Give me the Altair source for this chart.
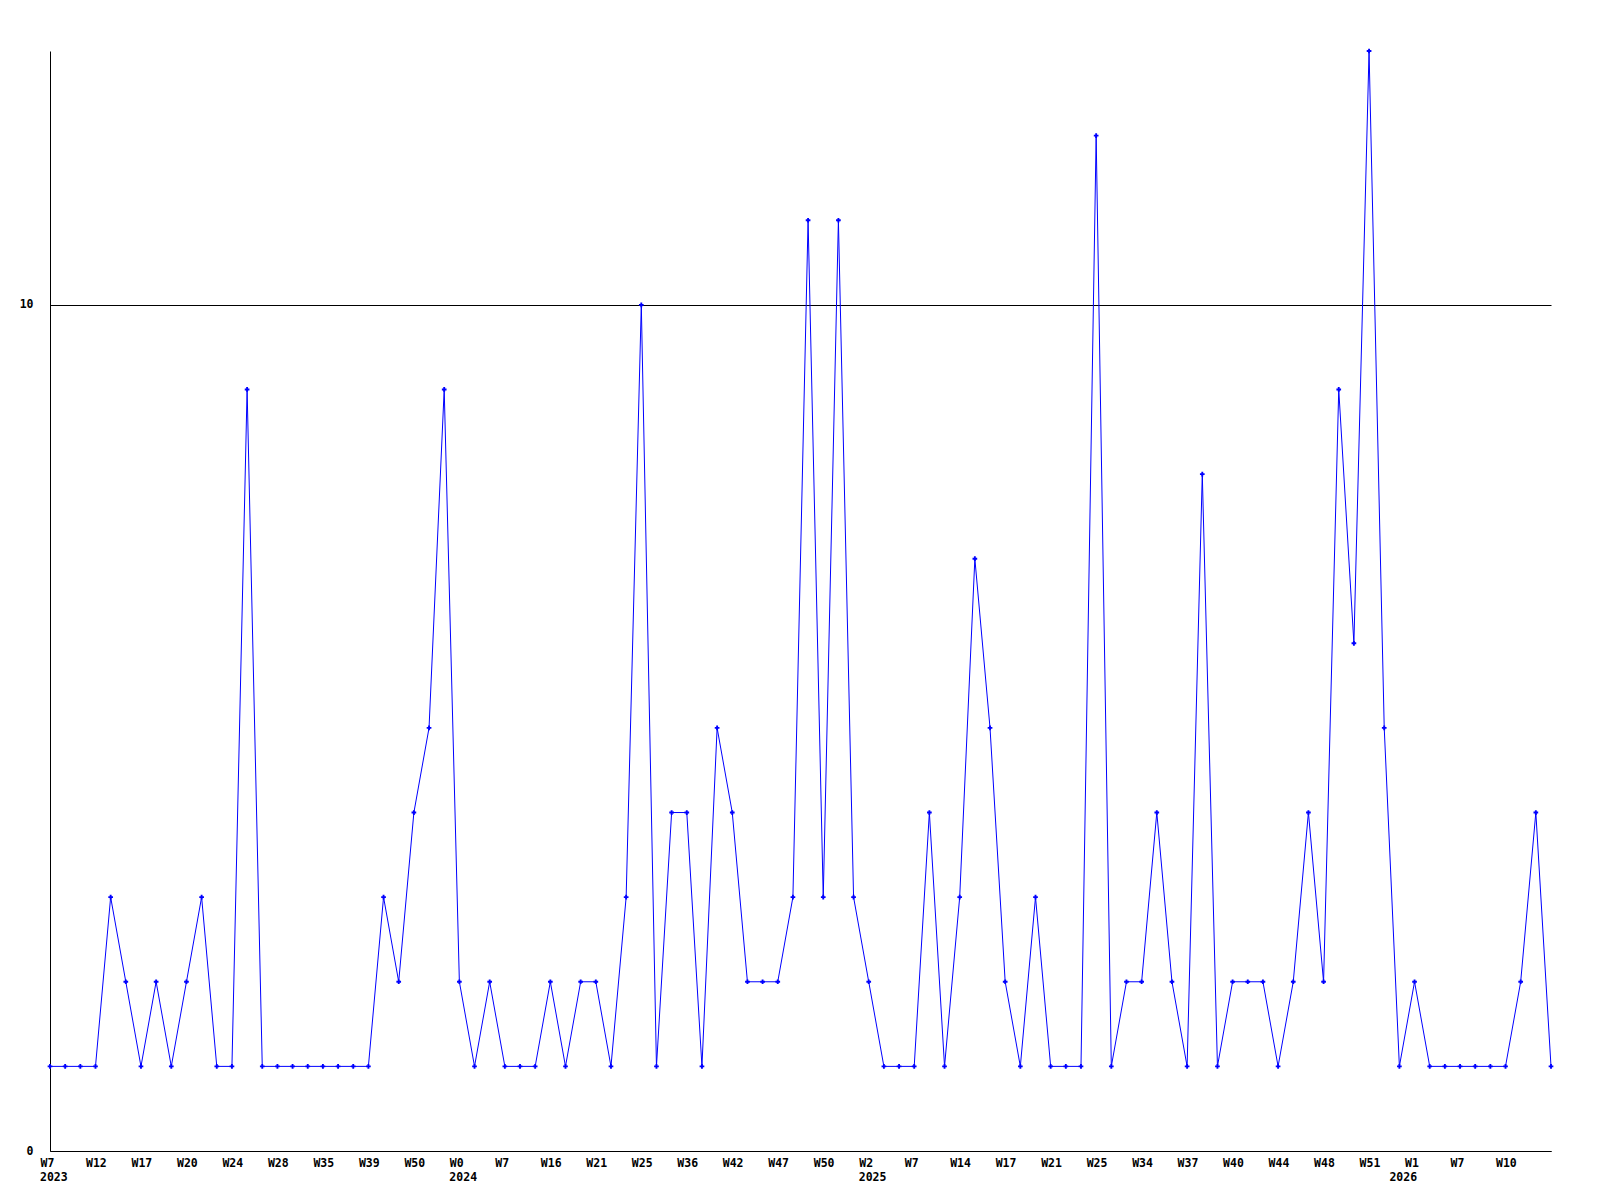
import altair as alt
import pandas as pd

values = [1,1,1,1,3,2,1,2,1,2,
          3,1,1,9,1,1,1,1,1,1,
          1,1,3,2,4,5,9,2,1,2,
          1,1,1,2,1,2,2,1,3,10,
          1,4,4,1,5,4,2,2,2,3,
          11,3,11,3,2,1,1,1,4,1,
          3,7,5,2,1,3,1,1,1,12,
          1,2,2,4,2,1,8,1,2,2,
          2,1,2,4,2,9,6,13,5,1,
          2,1,1,1,1,1,1,2,4,1]

week_labels = ["W7","W12","W17","W20","W24","W28","W35","W39","W50","W0",
               "W7","W16","W21","W25","W36","W42","W47","W50","W2","W7",
               "W14","W17","W21","W25","W34","W37","W40","W44","W48","W51",
               "W1","W7","W10"]
label_step = 3

year_labels = ["2023", "2024", "2025", "2026"]
year_pos = [0, 27, 54, 89]

W, H = 1501, 1100
FONT = "DejaVu Sans Mono"

df = pd.DataFrame({"i": list(range(len(values))), "v": values})
ydf = pd.DataFrame({"i": year_pos, "t": year_labels})

arr = "[" + ",".join("'%s'" % s for s in week_labels) + "]"

xscale = alt.Scale(domain=[0, len(values) - 1], nice=False, zero=False)
yscale = alt.Scale(domain=[0, 13], nice=False)

xaxis = alt.Axis(values=list(range(0, len(week_labels) * label_step, label_step)),
                 labelExpr=arr + "[round(datum.value/3)]",
                 ticks=False, grid=False, labelAlign="left", labelOffset=-10,
                 labelBaseline="top", labelPadding=6, labelFont=FONT,
                 labelFontSize=11.5, labelFontWeight="bold", labelColor="black",
                 domainColor="black", title=None, labelOverlap=False,
                 labelFlush=False)
yaxis = alt.Axis(values=[0, 10], ticks=False, grid=True, gridColor="black",
                 gridOpacity=1, gridWidth=1, labelPadding=17, labelFont=FONT,
                 labelFontSize=11.5, labelFontWeight="bold", labelColor="black",
                 domainColor="black", title=None, minExtent=42, maxExtent=42,
                 format="d")

base = alt.Chart(df)
line = base.mark_line(color="#0000FF", strokeWidth=1).encode(
    x=alt.X("i:Q", scale=xscale, axis=xaxis),
    y=alt.Y("v:Q", scale=yscale, axis=yaxis),
)
pts = base.mark_point(shape="cross", filled=True, size=22, color="#0000FF", opacity=1).encode(
    x=alt.X("i:Q", scale=xscale),
    y=alt.Y("v:Q", scale=yscale),
)
years = alt.Chart(ydf).mark_text(align="left", baseline="top", dx=-10, font=FONT,
                                 fontSize=11.5, fontWeight="bold", color="black").encode(
    x=alt.X("i:Q", scale=xscale),
    y=alt.value(H + 21),
    text="t:N",
)

chart = alt.layer(line, pts, years).properties(
    width=W, height=H,
    padding={"left": 0, "top": 40, "right": 0, "bottom": 0},
).configure(background="white").configure_view(strokeWidth=0, stroke=None)

chart.save("out.html", embed_options={"renderer": "svg", "actions": False})
